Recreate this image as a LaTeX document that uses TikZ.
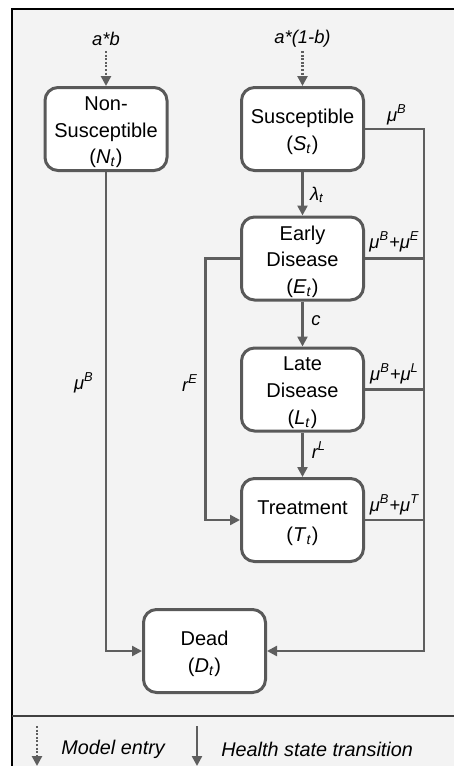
\documentclass[tikz,border=0pt]{standalone}
\usepackage{fontspec}
\setmainfont{Liberation Sans}
\usetikzlibrary{arrows.meta,calc}
\definecolor{bggray}{HTML}{F3F3F3}
\definecolor{linegray}{HTML}{5E5E5E}
\definecolor{boxgray}{HTML}{595959}
\newcommand{\vv}[2]{\textit{#1}\textsubscript{\textit{#2}}}
\tikzset{
  statebox/.style={draw=boxgray, line width=1.5pt, fill=white, rounded corners=6.5pt,
    minimum width=61pt, minimum height=41.5pt, inner sep=0pt},
  boxtext/.style={align=center, inner sep=0pt, font=\fontsize{10}{13.4}\selectfont},
  trans/.style={draw=linegray, line width=1.2pt, -{Triangle[length=5pt,width=5pt]}},
  plainline/.style={draw=linegray, line width=1.2pt},
  entry/.style={draw=linegray, line width=1.4pt, dash pattern=on 1pt off 0.8pt,
    -{Triangle[length=5pt,width=5pt]}},
  lab/.style={font=\fontsize{9.2}{11}\selectfont\itshape, inner sep=0pt},
  leg/.style={font=\fontsize{9.9}{12}\selectfont\itshape, inner sep=0pt, anchor=west},
}
\begin{document}
\begin{tikzpicture}[x=0.5pt,y=-0.5pt]
\useasboundingbox (0,0) rectangle (454,766);
\fill[white] (0,0) rectangle (454,766);
\fill[bggray] (12,9) rectangle (454,766);
\draw[black, line width=0.6pt] (12,766) -- (12,9) -- (454,9);
\draw[black!75, line width=0.6pt] (12,716) -- (454,716);

% states
\node[statebox] (N) at (106,129) {};
\node[statebox] (S) at (302.5,129) {};
\node[statebox] (E) at (302.5,258.5) {};
\node[statebox] (L) at (302.5,389.5) {};
\node[statebox] (T) at (302.5,520) {};
\node[statebox] (D) at (204.5,651) {};
\node[boxtext] (Nt) at ([yshift=-1.6pt]N.center) {Non-\\Susceptible\\(\vv{N}{t})};
\node[boxtext] (St) at ([yshift=-1.6pt]S.center) {Susceptible\\(\vv{S}{t})};
\node[boxtext] (Et) at ([yshift=-1.6pt]E.center) {Early\\Disease\\(\vv{E}{t})};
\node[boxtext] (Lt) at ([yshift=-1.6pt]L.center) {Late\\Disease\\(\vv{L}{t})};
\node[boxtext] (Tt) at ([yshift=-1.6pt]T.center) {Treatment\\(\vv{T}{t})};
\node[boxtext] (Dt) at ([yshift=-1.6pt]D.center) {Dead\\(\vv{D}{t})};

% entries
\node[lab] (ab) at (106,39) {a*b};
\node[lab] (a1b) at (302.5,39) {a*(1-b)};
\coordinate (eN) at (106,51);
\coordinate (eS) at (302.5,51);
\draw[entry] (eN) -- (N.north);
\draw[entry] (eS) -- (S.north);

% transitions
\draw[trans] (S.south) -- (E.north);
\draw[trans] (E.south) -- (L.north);
\draw[trans] (L.south) -- (T.north);
\coordinate (rEx) at (205.5,400);
\draw[trans] (E.west) -| (rEx) |- (T.west);
\draw[trans] (N.south) |- (D.west);
\coordinate (busX) at (424,0);
\draw[trans] (S.east) -- (S.east -| busX) |- (D.east);
\draw[plainline] (E.east) -- (E.east -| busX);
\draw[plainline] (L.east) -- (L.east -| busX);
\draw[plainline] (T.east) -- (T.east -| busX);

% labels
\node[lab] (lam) at (317,195) {λ\textsubscript{t}};
\node[lab] (cl) at (316,321) {c};
\node[lab] (rL) at (319,450) {r\textsuperscript{L}};
\node[lab] (rE) at (190,383) {r\textsuperscript{E}};
\node[lab] (muN) at (84,383) {μ\textsuperscript{B}};
\node[lab] (muS) at (397,115) {μ\textsuperscript{B}};
\node[lab] (muE) at (394.5,242) {μ\textsuperscript{B}+μ\textsuperscript{E}};
\node[lab] (muL) at (394.5,374) {μ\textsuperscript{B}+μ\textsuperscript{L}};
\node[lab] (muT) at (394.5,505) {μ\textsuperscript{B}+μ\textsuperscript{T}};

% legend
\coordinate (l1a) at (37,726);
\coordinate (l1b) at (37,766);
\coordinate (l2a) at (197,726);
\coordinate (l2b) at (197,766);
\draw[entry] (l1a) -- (l1b);
\draw[trans] (l2a) -- (l2b);
\node[leg] (lg1) at (61,749) {Model entry};
\node[leg] (lg2) at (221,749) {Health state transition};
\end{tikzpicture}
\end{document}
